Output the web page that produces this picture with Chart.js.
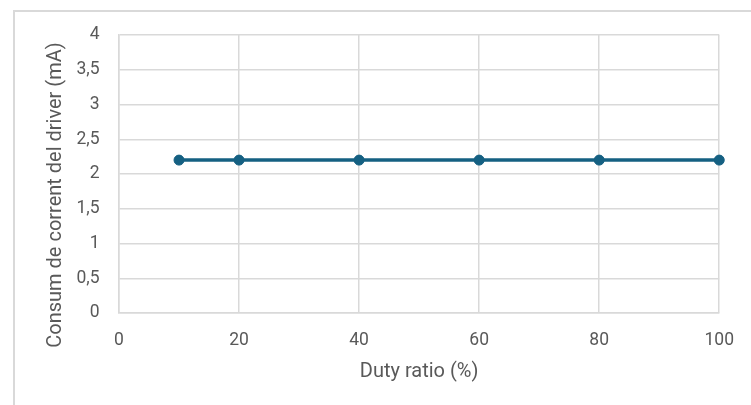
<!DOCTYPE html>
<html>
<head>
<meta charset="utf-8">
<script src="https://cdn.jsdelivr.net/npm/chart.js@4/dist/chart.umd.min.js"></script>
<style>
  html, body { margin: 0; padding: 0; background: #ffffff; }
  #wrap { position: relative; width: 751px; height: 405px; overflow: hidden; }
  #frame { position: absolute; left: 12.5px; top: 10px; width: 800px; height: 500px;
           border: 2px solid #d9d9d9; box-sizing: border-box; }
  canvas { position: absolute; left: 0; top: 0; }
</style>
</head>
<body>
<div id="wrap">
  <div id="frame"></div>
  <canvas id="c" width="751" height="405"></canvas>
</div>
<script>
// Driver current draw versus PWM duty ratio
const dutyRatio = [10, 20, 40, 60, 80, 100];
const driverCurrent = [2.2, 2.2, 2.2, 2.2, 2.2, 2.2];
const xTitle = 'Duty ratio (%)';
const yTitle = 'Consum de corrent del driver (mA)';

const lineColor = '#156082';
const gridColor = '#d9d9d9';
const textColor = '#595959';
const fontFamily = 'Roboto, "Noto Sans", sans-serif';

const points = dutyRatio.map((x, i) => ({ x: x, y: driverCurrent[i] }));

// Vertical axis title, centred a little below the plot's middle
const yTitlePlugin = {
  id: 'yTitle',
  afterDraw(chart) {
    const ctx = chart.ctx;
    ctx.save();
    ctx.translate(56, 195);
    ctx.rotate(-Math.PI / 2);
    ctx.font = '20px ' + fontFamily;
    ctx.fillStyle = textColor;
    ctx.textAlign = 'center';
    ctx.textBaseline = 'middle';
    ctx.fillText(yTitle, 0, 0);
    ctx.restore();
  }
};

new Chart(document.getElementById('c'), {
  type: 'line',
  data: {
    datasets: [{
      data: points,
      borderColor: lineColor,
      backgroundColor: lineColor,
      borderWidth: 3.5,
      pointRadius: 5,
      pointHoverRadius: 5,
      pointBorderWidth: 1,
      pointBackgroundColor: lineColor,
      pointBorderColor: lineColor,
      fill: false,
      tension: 0,
      clip: false
    }]
  },
  options: {
    responsive: false,
    animation: false,
    events: [],
    layout: { padding: { left: 0, top: 35, right: 30, bottom: 0 } },
    plugins: { legend: { display: false }, tooltip: { enabled: false } },
    scales: {
      x: {
        type: 'linear',
        min: 0, max: 100,
        ticks: { stepSize: 20, color: textColor, font: { family: fontFamily, size: 17.5 }, padding: 17, maxRotation: 0 },
        grid: { color: gridColor, lineWidth: 1.5, drawTicks: false },
        border: { color: gridColor, width: 1.5 },
        title: { display: true, text: xTitle, color: textColor,
                 font: { family: fontFamily, size: 20 }, padding: { top: 0, bottom: 21.5 } },
        afterFit: (s) => { s.height = 92; }
      },
      y: {
        min: 0, max: 4,
        ticks: { stepSize: 0.5, color: textColor, font: { family: fontFamily, size: 17.5 }, padding: 19.5,
                 callback: (v) => String(v).replace('.', ',') },
        grid: { color: gridColor, lineWidth: 1.5, drawTicks: false },
        border: { color: gridColor, width: 1.5 },
        afterFit: (s) => { s.width = 119; }
      }
    }
  },
  plugins: [yTitlePlugin]
});
</script>
</body>
</html>
